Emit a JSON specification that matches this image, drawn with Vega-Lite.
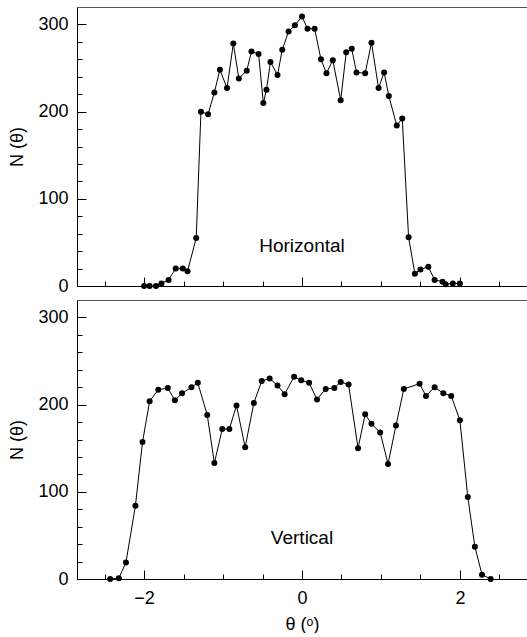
{
  "$schema": "https://vega.github.io/schema/vega-lite/v6.json",
  "usermeta": {"embedOptions": {"actions": false}},
  "autosize": {"type": "pad"},
  "padding": {"left": 8, "top": 7, "right": 0, "bottom": 0},
  "background": "white",
  "config": {
    "font": "Liberation Sans",
    "view": {"stroke": null},
    "axis": {
      "domainColor": "black",
      "domainWidth": 1,
      "tickColor": "black",
      "tickWidth": 1,
      "labelColor": "black",
      "titleColor": "black",
      "labelFont": "Liberation Sans",
      "titleFont": "Liberation Sans",
      "labelFontSize": 18,
      "titleFontSize": 18,
      "titleFontWeight": "normal",
      "grid": false
    }
  },
  "datasets": {
    "h": [
      {"theta": -2.00, "N": 0}, {"theta": -1.93, "N": 0}, {"theta": -1.85, "N": 0}, {"theta": -1.78, "N": 3},
      {"theta": -1.69, "N": 7}, {"theta": -1.60, "N": 20}, {"theta": -1.51, "N": 20}, {"theta": -1.45, "N": 17},
      {"theta": -1.34, "N": 55}, {"theta": -1.28, "N": 200}, {"theta": -1.19, "N": 197}, {"theta": -1.11, "N": 222},
      {"theta": -1.04, "N": 248}, {"theta": -0.95, "N": 227}, {"theta": -0.87, "N": 278}, {"theta": -0.80, "N": 238},
      {"theta": -0.70, "N": 247}, {"theta": -0.64, "N": 269}, {"theta": -0.55, "N": 266}, {"theta": -0.49, "N": 210},
      {"theta": -0.45, "N": 225}, {"theta": -0.40, "N": 257}, {"theta": -0.31, "N": 242}, {"theta": -0.25, "N": 271},
      {"theta": -0.17, "N": 292}, {"theta": -0.09, "N": 299}, {"theta": 0.00, "N": 309}, {"theta": 0.07, "N": 295},
      {"theta": 0.16, "N": 295}, {"theta": 0.24, "N": 260}, {"theta": 0.31, "N": 244}, {"theta": 0.39, "N": 259},
      {"theta": 0.49, "N": 213}, {"theta": 0.56, "N": 268}, {"theta": 0.63, "N": 272}, {"theta": 0.69, "N": 245},
      {"theta": 0.80, "N": 244}, {"theta": 0.88, "N": 279}, {"theta": 0.97, "N": 227}, {"theta": 1.04, "N": 245},
      {"theta": 1.10, "N": 218}, {"theta": 1.20, "N": 184}, {"theta": 1.27, "N": 192}, {"theta": 1.35, "N": 56},
      {"theta": 1.43, "N": 14}, {"theta": 1.50, "N": 19}, {"theta": 1.60, "N": 22}, {"theta": 1.68, "N": 7},
      {"theta": 1.78, "N": 5}, {"theta": 1.82, "N": 2}, {"theta": 1.91, "N": 3}, {"theta": 2.00, "N": 3}
    ],
    "v": [
      {"theta": -2.43, "N": 0}, {"theta": -2.32, "N": 1}, {"theta": -2.23, "N": 19}, {"theta": -2.11, "N": 84},
      {"theta": -2.02, "N": 157}, {"theta": -1.93, "N": 204}, {"theta": -1.82, "N": 217}, {"theta": -1.70, "N": 219},
      {"theta": -1.61, "N": 205}, {"theta": -1.52, "N": 213}, {"theta": -1.40, "N": 220}, {"theta": -1.32, "N": 225},
      {"theta": -1.20, "N": 188}, {"theta": -1.11, "N": 133}, {"theta": -1.01, "N": 172}, {"theta": -0.92, "N": 172},
      {"theta": -0.83, "N": 199}, {"theta": -0.72, "N": 151}, {"theta": -0.61, "N": 202}, {"theta": -0.51, "N": 227},
      {"theta": -0.41, "N": 230}, {"theta": -0.31, "N": 222}, {"theta": -0.22, "N": 212}, {"theta": -0.10, "N": 232},
      {"theta": -0.01, "N": 228}, {"theta": 0.09, "N": 225}, {"theta": 0.19, "N": 206}, {"theta": 0.30, "N": 218},
      {"theta": 0.41, "N": 219}, {"theta": 0.49, "N": 226}, {"theta": 0.59, "N": 223}, {"theta": 0.71, "N": 150},
      {"theta": 0.80, "N": 189}, {"theta": 0.88, "N": 178}, {"theta": 0.99, "N": 168}, {"theta": 1.09, "N": 132},
      {"theta": 1.19, "N": 176}, {"theta": 1.29, "N": 218}, {"theta": 1.49, "N": 224}, {"theta": 1.57, "N": 210},
      {"theta": 1.68, "N": 220}, {"theta": 1.79, "N": 213}, {"theta": 1.89, "N": 210}, {"theta": 2.00, "N": 182},
      {"theta": 2.10, "N": 94}, {"theta": 2.19, "N": 37}, {"theta": 2.28, "N": 5}, {"theta": 2.39, "N": 0}
    ]
  },
  "spacing": 5,
  "vconcat": [
    {
      "width": 450,
      "height": 279,
      "layer": [
        {
          "data": {"name": "h"},
          "mark": {"type": "line", "color": "black", "strokeWidth": 1},
          "encoding": {
            "x": {"field": "theta", "type": "quantitative",
                  "scale": {"domain": [-2.85, 2.85], "nice": false, "zero": false},
                  "axis": {"orient": "bottom", "values": [-2, 0, 2], "labels": false, "tickSize": -9, "title": null}},
            "y": {"field": "N", "type": "quantitative",
                  "scale": {"domain": [0, 320], "nice": false, "zero": true},
                  "axis": {"orient": "left", "values": [0, 100, 200, 300], "tickSize": -9, "labelPadding": 18,
                           "title": "N (θ)", "titlePadding": 6, "minExtent": 45, "maxExtent": 45}}
          }
        },
        {
          "data": {"name": "h"},
          "mark": {"type": "point", "filled": true, "color": "black", "size": 36, "opacity": 1},
          "encoding": {
            "x": {"field": "theta", "type": "quantitative",
                  "axis": {"orient": "bottom", "values": [-2.5, -1.5, -1, -0.5, 0.5, 1, 1.5, 2.5], "labels": false, "domain": false, "tickSize": -5, "title": null}},
            "y": {"field": "N", "type": "quantitative",
                  "axis": {"orient": "left", "values": [20, 40, 60, 80, 120, 140, 160, 180, 220, 240, 260, 280], "labels": false, "domain": false, "tickSize": -5, "title": null}}
          }
        },
        {
          "data": {"values": [{"label": "Horizontal"}]},
          "mark": {"type": "text", "fontSize": 19, "font": "Liberation Sans", "color": "black", "baseline": "middle", "align": "center"},
          "encoding": {
            "x": {"datum": 0, "type": "quantitative",
                  "axis": {"orient": "top", "domainColor": "#555555", "ticks": false, "labels": false, "title": null}},
            "y": {"datum": 46, "type": "quantitative", "axis": null},
            "text": {"field": "label", "type": "nominal"}
          }
        }
      ],
      "resolve": {"axis": {"x": "independent", "y": "independent"}}
    },
    {
      "width": 450,
      "height": 279,
      "layer": [
        {
          "data": {"name": "v"},
          "mark": {"type": "line", "color": "black", "strokeWidth": 1},
          "encoding": {
            "x": {"field": "theta", "type": "quantitative",
                  "scale": {"domain": [-2.85, 2.85], "nice": false, "zero": false},
                  "axis": {"orient": "bottom", "values": [-2, 0, 2], "tickSize": -9, "labelPadding": 19,
                           "title": "θ  (ᵒ)", "titlePadding": 8}},
            "y": {"field": "N", "type": "quantitative",
                  "scale": {"domain": [0, 320], "nice": false, "zero": true},
                  "axis": {"orient": "left", "values": [0, 100, 200, 300], "tickSize": -9, "labelPadding": 18,
                           "title": "N (θ)", "titlePadding": 6, "minExtent": 45, "maxExtent": 45}}
          }
        },
        {
          "data": {"name": "v"},
          "mark": {"type": "point", "filled": true, "color": "black", "size": 36, "opacity": 1},
          "encoding": {
            "x": {"field": "theta", "type": "quantitative",
                  "axis": {"orient": "bottom", "values": [-2.5, -1.5, -1, -0.5, 0.5, 1, 1.5, 2.5], "labels": false, "domain": false, "tickSize": -5, "title": null}},
            "y": {"field": "N", "type": "quantitative",
                  "axis": {"orient": "left", "values": [20, 40, 60, 80, 120, 140, 160, 180, 220, 240, 260, 280], "labels": false, "domain": false, "tickSize": -5, "title": null}}
          }
        },
        {
          "data": {"values": [{"label": "Vertical"}]},
          "mark": {"type": "text", "fontSize": 19, "font": "Liberation Sans", "color": "black", "baseline": "middle", "align": "center"},
          "encoding": {
            "x": {"datum": 0, "type": "quantitative",
                  "axis": {"orient": "top", "domainColor": "#555555", "ticks": false, "labels": false, "title": null}},
            "y": {"datum": 47, "type": "quantitative", "axis": null},
            "text": {"field": "label", "type": "nominal"}
          }
        }
      ],
      "resolve": {"axis": {"x": "independent", "y": "independent"}}
    }
  ]
}
